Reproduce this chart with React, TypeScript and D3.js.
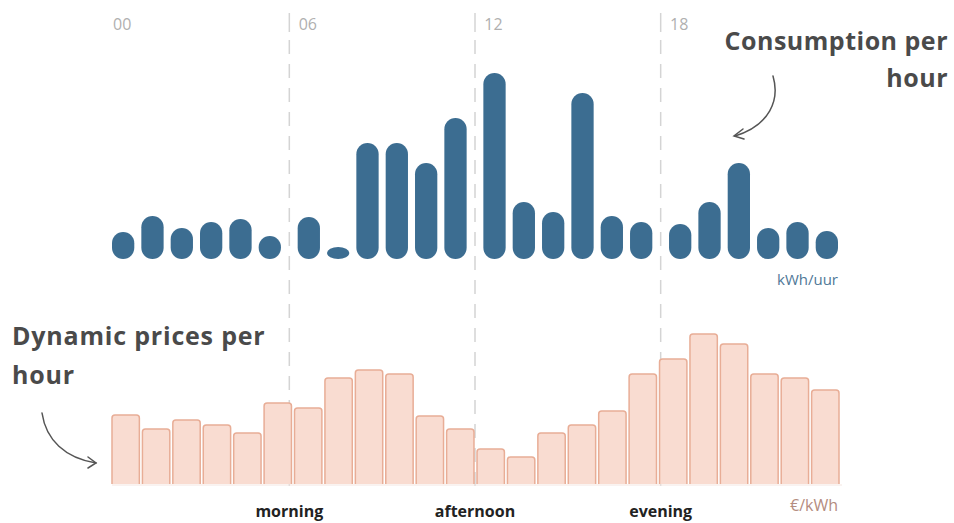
import React, { useEffect, useRef } from 'react';
import * as d3 from 'd3';

// hour slots, grouped per 6 hours
const hours = d3.range(24);
const groups = ['00', '06', '12', '18'];
const dayParts = ['morning', 'afternoon', 'evening'];

// consumption per hour (kWh/uur)
const consumption = [
  0.27, 0.43, 0.31, 0.37, 0.4, 0.23,
  0.42, 0.12, 1.16, 1.16, 0.96, 1.41,
  1.86, 0.57, 0.47, 1.66, 0.43, 0.37,
  0.35, 0.57, 0.96, 0.31, 0.37, 0.28,
];

// dynamic price per hour (€/kWh)
const prices = [
  0.138, 0.11, 0.128, 0.118, 0.102, 0.162,
  0.152, 0.212, 0.228, 0.22, 0.136, 0.11,
  0.07, 0.054, 0.102, 0.118, 0.146, 0.22,
  0.25, 0.3, 0.28, 0.22, 0.212, 0.188,
];

const W = 954;
const H = 523;
const FONT = '"Open Sans", Lato, sans-serif';

const App: React.FC = () => {
  const svgRef = useRef<SVGSVGElement>(null);

  useEffect(() => {
    if (!svgRef.current) return;
    const svg = d3.select(svgRef.current);
    svg.selectAll('*').remove();

    const left = 112;
    const right = 838;

    // consumption layout: 4 groups of 6 bars
    const xGroup = d3.scaleBand<string>().domain(groups).range([left, right]).paddingInner(0.09);
    const xInner = d3.scaleBand<number>().domain(d3.range(6)).range([0, xGroup.bandwidth()]).paddingInner(0.24);
    const yCons = d3.scaleLinear().domain([0, 2]).range([259, 59]);

    // prices layout: 24 contiguous bars
    const xPrice = d3.scaleBand<number>().domain(hours).range([left, right + 1]).paddingInner(0.1);
    const yPrice = d3.scaleLinear().domain([0, 0.3]).range([484, 334]);

    const consX = (h: number) => (xGroup(groups[Math.floor(h / 6)]) as number) + (xInner(h % 6) as number);

    // dashed separators between groups
    const sepX = groups.slice(1).map((g, i) => {
      const prevEnd = (xGroup(groups[i]) as number) + xGroup.bandwidth();
      return (prevEnd + (xGroup(g) as number)) / 2;
    });

    const sep = svg.append('g');
    sepX.forEach(x => {
      sep.append('line')
        .attr('x1', x).attr('x2', x)
        .attr('y1', 13).attr('y2', 32)
        .attr('stroke', '#d4d4d4').attr('stroke-width', 1.5);
      sep.append('line')
        .attr('x1', x).attr('x2', x)
        .attr('y1', 40).attr('y2', 486)
        .attr('stroke', '#d4d4d4').attr('stroke-width', 1.5)
        .attr('stroke-dasharray', '14 10');
    });

    // hour tick labels
    svg.append('g')
      .selectAll('text')
      .data(groups)
      .enter()
      .append('text')
      .attr('x', d => (xGroup(d) as number) + 1)
      .attr('y', 30)
      .attr('font-family', FONT)
      .attr('font-size', 16)
      .attr('fill', '#b0b0b0')
      .text(d => d);

    // consumption bars
    const bw = xInner.bandwidth();
    svg.append('g')
      .selectAll('rect')
      .data(consumption)
      .enter()
      .append('rect')
      .attr('x', (d, i) => consX(i))
      .attr('y', d => yCons(d))
      .attr('width', bw)
      .attr('height', d => yCons(0) - yCons(d))
      .attr('rx', bw / 2)
      .attr('fill', '#3c6d91');

    // price bars
    const pw = xPrice.bandwidth();
    const r = 3;
    svg.append('g')
      .selectAll('path')
      .data(prices)
      .enter()
      .append('path')
      .attr('d', (d, i) => {
        const x = xPrice(i) as number;
        const top = yPrice(d);
        const bot = yPrice(0);
        return `M${x},${bot}V${top + r}Q${x},${top} ${x + r},${top}H${x + pw - r}Q${x + pw},${top} ${x + pw},${top + r}V${bot}`;
      })
      .attr('fill', '#f9dcd1')
      .attr('stroke', '#e8ad96')
      .attr('stroke-width', 1.5);

    // baseline under price bars
    svg.append('line')
      .attr('x1', left).attr('x2', right + 4)
      .attr('y1', yPrice(0) + 1).attr('y2', yPrice(0) + 1)
      .attr('stroke', '#f4e6e1').attr('stroke-width', 1);

    // units
    svg.append('text')
      .attr('x', right).attr('y', 285)
      .attr('text-anchor', 'end')
      .attr('font-family', FONT).attr('font-size', 15)
      .attr('fill', '#4f7897')
      .text('kWh/uur');
    svg.append('text')
      .attr('x', right).attr('y', 511)
      .attr('text-anchor', 'end')
      .attr('font-family', FONT).attr('font-size', 16)
      .attr('fill', '#b48c80')
      .text('€/kWh');

    // day parts
    svg.append('g')
      .selectAll('text')
      .data(dayParts)
      .enter()
      .append('text')
      .attr('x', (d, i) => sepX[i])
      .attr('y', 517)
      .attr('text-anchor', 'middle')
      .attr('font-family', FONT)
      .attr('font-weight', 'bold')
      .attr('font-size', 16)
      .attr('fill', '#222')
      .text(d => d);

    // titles
    const t1 = svg.append('text')
      .attr('text-anchor', 'end')
      .attr('font-family', FONT).attr('font-weight', 'bold').attr('font-size', 25)
      .attr('letter-spacing', 0.5)
      .attr('fill', '#4a4a4a');
    t1.append('tspan').attr('x', 948).attr('y', 50).text('Consumption per');
    t1.append('tspan').attr('x', 948).attr('y', 87).text('hour');

    const t2 = svg.append('text')
      .attr('font-family', FONT).attr('font-weight', 'bold').attr('font-size', 25)
      .attr('letter-spacing', 0.8)
      .attr('fill', '#4a4a4a');
    t2.append('tspan').attr('x', 12).attr('y', 345).text('Dynamic prices per');
    t2.append('tspan').attr('x', 12).attr('y', 384).text('hour');

    // annotation arrows
    const arrows = svg.append('g')
      .attr('fill', 'none')
      .attr('stroke', '#555')
      .attr('stroke-width', 1.5)
      .attr('stroke-linecap', 'round');
    arrows.append('path').attr('d', 'M773,76 C780,100 770,125 735,136');
    arrows.append('path').attr('d', 'M743,129 L734,136 L744,139');
    arrows.append('path').attr('d', 'M42,413 C46,440 65,458 96,463');
    arrows.append('path').attr('d', 'M88,457 L96,463 L88,468');
  }, []);

  return (
    <div style={{ position: 'absolute', left: 0, top: 0, background: '#fff' }}>
      <svg ref={svgRef} width={W} height={H} />
    </div>
  );
};

export default App;
